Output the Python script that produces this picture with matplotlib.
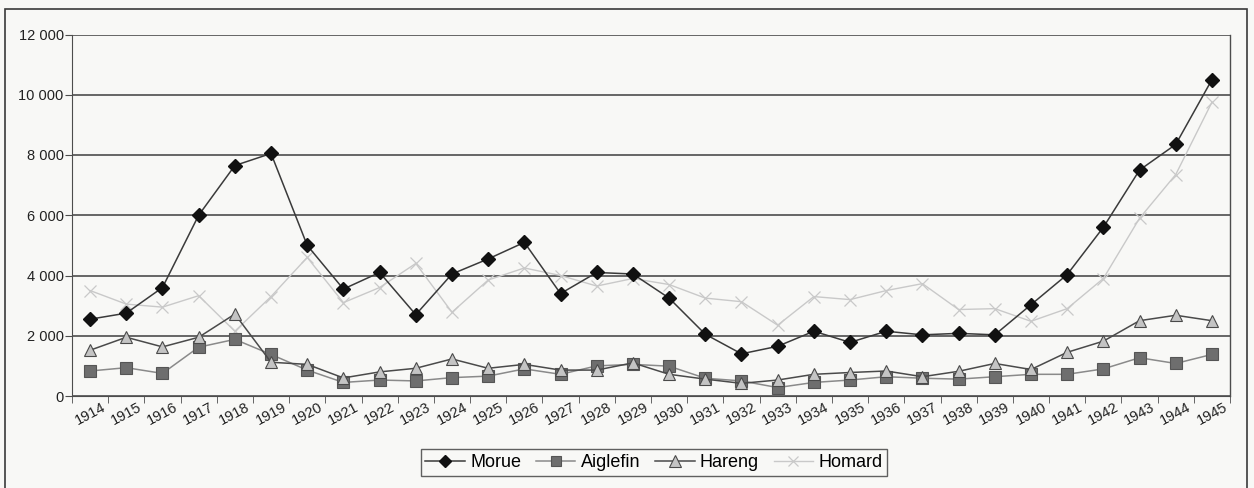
import matplotlib
matplotlib.use("Agg")
import matplotlib.pyplot as plt
from matplotlib.patches import Rectangle
from matplotlib.ticker import FuncFormatter, FixedLocator

plt.rcParams['font.family'] = ['Liberation Sans', 'DejaVu Sans']

years = [str(y) for y in range(1914, 1946)]

morue = [2550, 2750, 3600, 6000, 7650, 8050, 5000, 3550, 4100, 2700,
         4050, 4550, 5100, 3400, 4100, 4050, 3250, 2050, 1400, 1650,
         2150, 1780, 2150, 2030, 2080, 2030, 3030, 4030, 5600, 7500,
         8350, 10500]
aiglefin = [830, 940, 750, 1620, 1880, 1380, 860, 450, 530, 500,
            610, 660, 900, 720, 1000, 1050, 990, 590, 500, 280,
            450, 530, 640, 590, 560, 640, 720, 720, 900, 1270,
            1080, 1380]
hareng = [1520, 1950, 1630, 1950, 2720, 1120, 1050, 600, 800, 920,
          1230, 920, 1050, 860, 860, 1100, 720, 560, 420, 530,
          720, 780, 830, 640, 820, 1080, 880, 1450, 1820, 2500,
          2680, 2500]
homard = [3500, 3050, 2950, 3330, 2150, 3300, 4600, 3100, 3600, 4400,
          2780, 3850, 4250, 4000, 3650, 3900, 3700, 3250, 3130, 2350,
          3300, 3200, 3500, 3730, 2870, 2900, 2480, 2900, 3900, 5900,
          7350, 9750]

bg = '#f8f8f6'
W, H = 1254, 488
fig = plt.figure(figsize=(W / 100, H / 100), dpi=100, facecolor=bg)

# outer frame around the whole chart (its bottom edge runs past the image)
fig.patches.append(Rectangle((5 / W, -0.02), (1247 - 5) / W, 1.02 - 9 / H,
                             transform=fig.transFigure, fill=False,
                             edgecolor='#3a3a3a', linewidth=1.2))

ax = fig.add_axes([72 / W, 1 - 396 / H, (1230 - 72) / W, (396 - 34.5) / H])
ax.set_facecolor(bg)

x = list(range(len(years)))

ax.plot(x, homard, color='#c9c9c9', linewidth=1.0, marker='x', markersize=8,
        markeredgewidth=0.9, label='Homard', zorder=2)
ax.plot(x, aiglefin, color='#8a8a8a', linewidth=1.1, marker='s', markersize=8,
        markerfacecolor='#6e6e6e', markeredgecolor='#555555',
        markeredgewidth=0.8, label='Aiglefin', zorder=3)
ax.plot(x, hareng, color='#4a4a4a', linewidth=1.1, marker='^', markersize=9,
        markerfacecolor='#c4c4c4', markeredgecolor='#4a4a4a',
        markeredgewidth=0.8, label='Hareng', zorder=4)
ax.plot(x, morue, color='#3a3a3a', linewidth=1.1, marker='D', markersize=7,
        markerfacecolor='#111111', markeredgecolor='#111111',
        label='Morue', zorder=5)

ax.set_xlim(-0.5, len(years) - 0.5)
ax.set_ylim(0, 12000)
ax.set_yticks(range(0, 12001, 2000))
ax.yaxis.set_major_formatter(FuncFormatter(lambda v, p: f"{int(v):,}".replace(',', ' ')))
ax.grid(axis='y', color='#4d4d4d', linewidth=1.2, zorder=0)
ax.set_axisbelow(True)

ax.set_xticks(x)
ax.set_xticklabels(years, rotation=28, ha='center', fontsize=10.5, color='#222222')
ax.xaxis.set_minor_locator(FixedLocator([i - 0.5 for i in range(len(years) + 1)]))
ax.tick_params(axis='x', which='major', length=0, pad=3)
ax.tick_params(axis='x', which='minor', length=5, color='#4d4d4d', direction='out')
ax.tick_params(axis='y', length=5, color='#4d4d4d', labelsize=10.5,
               labelcolor='#222222', pad=1)

ax.spines['top'].set_visible(False)
for side in ['left', 'bottom', 'right']:
    ax.spines[side].set_color('#4d4d4d')
ax.spines['right'].set_linewidth(1.0)

handles, labels = ax.get_legend_handles_labels()
order = ['Morue', 'Aiglefin', 'Hareng', 'Homard']
hmap = dict(zip(labels, handles))
leg = fig.legend([hmap[k] for k in order], order, loc='center',
                 bbox_to_anchor=(654 / W, 1 - 462.5 / H), ncol=4, frameon=True,
                 fancybox=False, edgecolor='#3a3a3a', facecolor=bg,
                 fontsize=13, handlelength=2.2, columnspacing=0.8,
                 handletextpad=0.3, borderpad=0.25, borderaxespad=0,
                 markerscale=0.9)
leg.get_frame().set_linewidth(1.0)

fig.savefig('out.png', dpi=100, facecolor=bg)
